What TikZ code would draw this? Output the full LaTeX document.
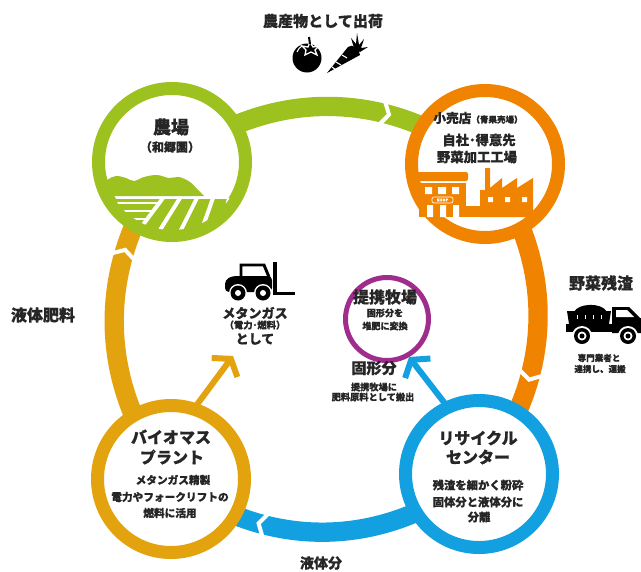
\documentclass[tikz,border=0pt]{standalone}
\usepackage{fontspec}
\setmainfont{Noto Sans CJK JP}[BoldFeatures={FakeBold=0.6}]
\usetikzlibrary{arrows.meta,backgrounds,calc}

\definecolor{farmgreen}{RGB}{157,193,30}
\definecolor{shoporange}{RGB}{240,131,0}
\definecolor{cycleblue}{RGB}{18,160,224}
\definecolor{plantgold}{RGB}{227,163,14}
\definecolor{ranchpurple}{RGB}{160,44,140}
\definecolor{ink}{RGB}{38,38,38}

\tikzset{
  hub/.style={circle, draw=#1, fill=white, line width=9.75pt,
    minimum size=110.25pt, inner sep=0pt},
  smallhub/.style={circle, draw=#1, fill=white, line width=3.75pt,
    minimum size=62.25pt, inner sep=0pt},
  band/.style={draw=#1, line width=14.5pt},
  notch/.style={draw=white, line width=3pt},
  feed/.style={draw=#1, line width=4.5pt,
    -{Straight Barb[length=8pt, width=24pt]}},
  txt/.style={text=ink, font=\bfseries\fontsize{#1}{#1}\selectfont, inner sep=0pt},
}

\begin{document}
\begin{tikzpicture}[x=0.75pt,y=-0.75pt]
\useasboundingbox (0,0) rectangle (641,571);

% the four stations of the loop and the partner ranch
\node[hub=farmgreen]  (farm)  at (172,162) {};
\node[hub=shoporange] (shop)  at (485,164) {};
\node[hub=cycleblue]  (cycle) at (479,474) {};
\node[hub=plantgold]  (plant) at (171,479) {};
\node[smallhub=ranchpurple] (ranch) at (387,319) {};

\coordinate (gasTip)   at (233,356);
\coordinate (ranchTip) at (409,357);

% loop bands, their arrow notches and the feed arrows run underneath the stations
\begin{scope}[on background layer]
  \draw[band=farmgreen]  (farm.center)  to[bend left=38]
    coordinate[pos=0.66] (gA) coordinate[pos=0.68] (gB) (shop.center);
  \draw[band=shoporange] (shop.center)  to[bend left=38]
    coordinate[pos=0.66] (oA) coordinate[pos=0.68] (oB) (cycle.center);
  \draw[band=cycleblue]  (cycle.center) to[bend left=38]
    coordinate[pos=0.685] (bA) coordinate[pos=0.705] (bB) (plant.center);
  \draw[band=plantgold]  (plant.center) to[bend left=38]
    coordinate[pos=0.69] (yA) coordinate[pos=0.71] (yB) (farm.center);
  \foreach \a/\b in {gA/gB, oA/oB, bA/bB, yA/yB}
    \draw[notch] ($(\a)!11pt!90:(\b)$) -- ($(\a)!6.5pt!(\b)$) -- ($(\a)!11pt!-90:(\b)$);
  \draw[feed=plantgold] ($(plant.center)!0.92!(plant.72)$) -- (gasTip);
  \draw[feed=cycleblue] ($(cycle.center)!0.92!(cycle.115)$) -- (ranchTip);
\end{scope}

% farm: hills and fields
\begin{scope}
  \clip (farm.center) circle[radius=68];
  \fill[farmgreen] (94,196) -- plot[smooth, tension=0.6] coordinates
    {(100,187) (107,180) (116,176) (126,178) (134,181) (144,177) (157,175)
     (169,178) (179,177) (190,182) (198,190) (204,196)} -- cycle;
  \fill[farmgreen] (90,199) rectangle (260,250);
  \draw[white, line width=3pt]
    (163,198) -- (127,246) (180,198) -- (150,246) (197,198) -- (173,246)
    (213,198) -- (196,246) (229,198) -- (219,246);
  \draw[white, line width=2.2pt]
    (90,203) -- (160,203) (90,211) -- (154,211) (90,219) -- (148,219);
\end{scope}

% shop and factory
\begin{scope}[shoporange]
  \fill[rounded corners=1.5pt] (417,172) rectangle (468,181);
  \fill (419,183) rectangle (466,217);
  \fill (466,206) rectangle (481,217);
  \fill (480,217) -- (480,190) -- (485,190) -- (485,168) -- (490,168) -- (490,188)
    -- (502,178) -- (502,188) -- (517,178) -- (517,188) -- (533,178) -- (533,217) -- cycle;
\end{scope}
\fill[white] (425,187) rectangle (432,194) (438,187) rectangle (446,194)
  (452,187) rectangle (459,194);
\fill[white] (427,205) rectangle (433,217) (440,205) rectangle (446,217)
  (453,205) rectangle (459,217);
\draw[white, line width=0.5pt, rounded corners=1.5pt] (432,197) rectangle (453,203);
\node[font=\bfseries\fontsize{3}{3}\selectfont, text=white, inner sep=0pt]
  (shopsign) at (442.5,200) {SHOP};
\fill[white] (488,197) rectangle (493,202) (505,197) rectangle (510,202)
  (522,197) rectangle (527,202);

% tomato and carrot
\fill (307,58) circle[radius=14.5];
\draw[white, line width=0.8pt] (297,52) arc[start angle=200, end angle=240, radius=12];
\draw[white, line width=1pt, fill=black] (310,42) -- (313,47) -- (319,46) -- (315,50)
  -- (317,55) -- (311,52) -- (305,55) -- (306,50) -- (302,46) -- (308,47) -- cycle;
\draw[line width=1.5pt] (310,44) -- (309,37);
\fill (327,73) -- (348,47) .. controls (352,43) and (360,49) .. (360,55) -- cycle;
\draw[white, line width=0.8pt] (336,62) -- (341,65) (342,55) -- (347,58) (332,67) -- (336,70);
\fill (354,48) -- (351,38) -- (356,44) -- (357,33) -- (359,45) -- (364,39) -- (361,48)
  -- (368,47) -- (360,52) -- cycle;

% dump truck
\fill (574,312) .. controls (578,303) and (602,302) .. (607,312) -- cycle;
\fill (567,311) -- (611,311) -- (609,324) -- (569,324) -- cycle;
\draw[white, line width=0.6pt] (577,315) -- (577,319) (585,315) -- (585,319)
  (593,315) -- (593,319) (601,315) -- (601,319);
\fill (612,307) -- (629,307) -- (640,318) -- (641,318) -- (641,333) -- (612,333) -- cycle;
\fill[white] (616,310) -- (627,310) -- (634,317) -- (616,317) -- cycle;
\fill (566,324) rectangle (641,332);
\foreach \wx in {582,628} {
  \fill[white] (\wx,336) circle[radius=10];
  \fill (\wx,336) circle[radius=8];
  \fill[white] (\wx,336) circle[radius=4.5];
  \fill (\wx,336) circle[radius=2.5];
}

% forklift
\fill[rounded corners=3pt] (225,292) -- (225,280) -- (232,276) -- (272,276) -- (272,292) -- cycle;
\draw[line width=2.2pt] (241,277) -- (241,265) -- (264,265) -- (269,277);
\fill (273,262) rectangle (277,295);
\fill (277,292) rectangle (295,295);
\foreach \wx in {238,263} {
  \fill[white] (\wx,293) circle[radius=9];
  \fill (\wx,293) circle[radius=7.5];
  \fill[white] (\wx,293) circle[radius=3];
}

% texts
\node[txt=11.3] (shipping) at (323,21) {農産物として出荷};
\node[txt=13.5] (farmname) at (171,127) {農場};
\node[txt=9] (farmsub) at (170,147) {（和郷園）};
\node[txt=9.5] (shopname) at (478,118) {小売店{\fontsize{6.4}{6.4}\selectfont（青果売場）}};
\node[txt=10] (shopline2) at (479,140) {自社･得意先};
\node[txt=10] (shopline3) at (477,157) {野菜加工工場};
\node[txt=12] (waste) at (601,283) {野菜残渣};
\node[txt=6.4] (wasteline2) at (599,358) {専門業者と};
\node[txt=6.4] (wasteline3) at (600,369) {連携し、運搬};
\node[txt=9.8] (gasline1) at (255,313) {メタンガス};
\node[txt=7] (gasline2) at (255,325) {（電力･燃料）};
\node[txt=9.8] (gasline3) at (255,339) {として};
\node[txt=12] (ranchname) at (385,297) {提携牧場};
\node[txt=6.8] (ranchline2) at (385,313) {固形分を};
\node[txt=6.8] (ranchline3) at (385,326) {堆肥に変換};
\node[txt=11.3] (solid) at (374,368) {固形分};
\node[txt=6.9] (solidline2) at (374,387) {提携牧場に};
\node[txt=6.9] (solidline3) at (373,397) {肥料原料として搬出};
\node[txt=12] (cycleline1) at (478,438) {リサイクル};
\node[txt=12] (cycleline2) at (478,457) {センター};
\node[txt=8.5] (cycleline3) at (478,485) {残渣を細かく粉砕};
\node[txt=8.5] (cycleline4) at (478,502) {固体分と液体分に};
\node[txt=8.5] (cycleline5) at (479,517) {分離};
\node[txt=12] (plantline1) at (171,437) {バイオマス};
\node[txt=12] (plantline2) at (172,457) {プラント};
\node[txt=8] (plantline3) at (173,480) {メタンガス精製};
\node[txt=8] (plantline4) at (170,497) {電力やフォークリフトの};
\node[txt=8] (plantline5) at (170,513) {燃料に活用};
\node[txt=12] (liquidfert) at (43,315) {液体肥料};
\node[txt=10.5] (liquid) at (321,563) {液体分};
\end{tikzpicture}
\end{document}
